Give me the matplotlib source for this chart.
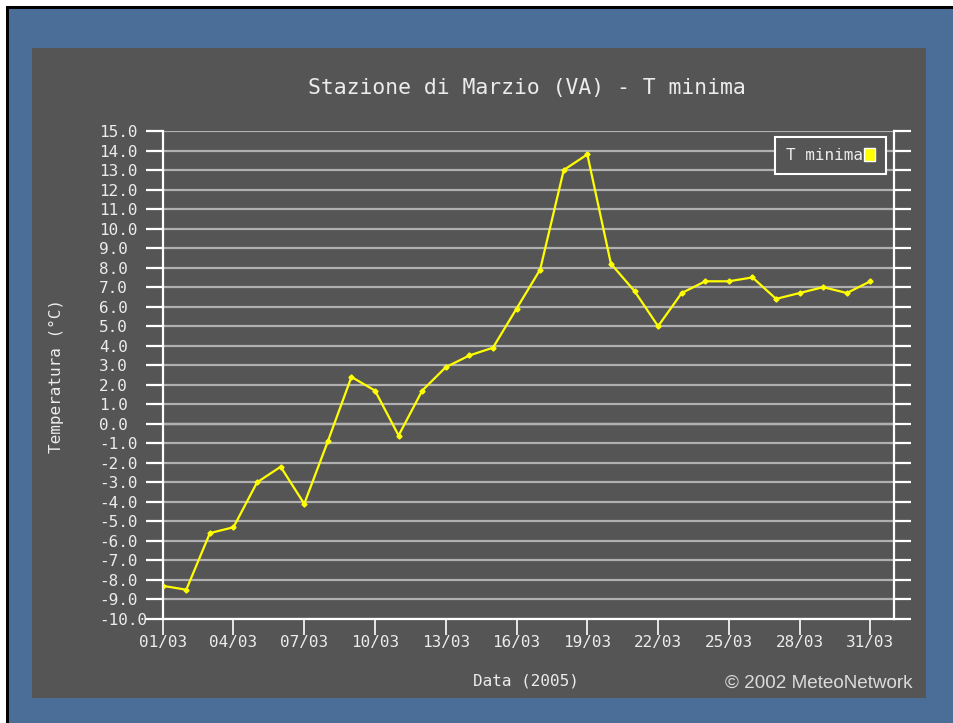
import matplotlib
matplotlib.use("Agg")
import matplotlib.pyplot as plt
from matplotlib.patches import Rectangle, Patch

# ---- data ----
days = list(range(1, 32))
t_min = [-8.3, -8.5, -5.6, -5.3, -3.0, -2.2, -4.1, -0.9, 2.4, 1.7,
         -0.6, 1.7, 2.9, 3.5, 3.9, 5.9, 7.9, 13.0, 13.8, 8.2,
         6.8, 5.0, 6.7, 7.3, 7.3, 7.5, 6.4, 6.7, 7.0, 6.7, 7.3]
xtick_days = [1, 4, 7, 10, 13, 16, 19, 22, 25, 28, 31]
xtick_labels = ["01/03", "04/03", "07/03", "10/03", "13/03", "16/03",
                "19/03", "22/03", "25/03", "28/03", "31/03"]
ytick_vals = list(range(-10, 16))
ytick_labels = [f"{v:.1f}" for v in ytick_vals]

W, H = 954, 723
BLUE = "#4a6e98"
PANEL = "#555555"
GRID = "#b0b0b0"
TXT = "#ececec"
MONO = "DejaVu Sans Mono"
FS = 11.5

fig = plt.figure(figsize=(W / 100, H / 100), dpi=100, facecolor=BLUE)

def fx(px):
    return px / W

def fy(py):
    return 1 - py / H

# outer white margin + black frame lines (top / left)
fig.patches.append(Rectangle((0, fy(6)), 1, 6 / H, transform=fig.transFigure,
                             facecolor="white", edgecolor="none", zorder=-5))
fig.patches.append(Rectangle((0, 0), 6 / W, 1, transform=fig.transFigure,
                             facecolor="white", edgecolor="none", zorder=-5))
fig.patches.append(Rectangle((fx(6), fy(9)), 1, 3 / H, transform=fig.transFigure,
                             facecolor="black", edgecolor="none", zorder=-4))
fig.patches.append(Rectangle((fx(6), 0), 3 / W, fy(6), transform=fig.transFigure,
                             facecolor="black", edgecolor="none", zorder=-4))
# dark panel
fig.patches.append(Rectangle((fx(32), fy(698.3)), (925.7 - 32) / W, (698.3 - 48.3) / H,
                             transform=fig.transFigure, facecolor=PANEL,
                             edgecolor="none", zorder=-3))

ax = fig.add_axes([fx(162.7), fy(619), (894 - 162.7) / W, (619 - 131) / H])
ax.set_facecolor(PANEL)
ax.set_xlim(1, 32)
ax.set_ylim(-10, 15)

# gridlines
ax.set_yticks(ytick_vals)
ax.set_yticklabels(ytick_labels)
ax.grid(axis="y", color=GRID, linewidth=1.6, zorder=1)
ax.axhline(0, color="white", linewidth=1.6, zorder=1.5)

ax.plot(days, t_min, color="#ffff00", linewidth=1.6, marker="D",
        markersize=2.6, zorder=3)

# spines
for side in ["left", "bottom", "right"]:
    ax.spines[side].set_color("white")
    ax.spines[side].set_linewidth(1.6)
ax.spines["top"].set_visible(False)

ax.set_xticks(xtick_days)
ax.set_xticklabels(xtick_labels)
ax.tick_params(axis="x", direction="out", length=11.5, width=1.2, color="white",
               pad=0, labelsize=FS, labelcolor=TXT)
ax.tick_params(axis="y", which="both", direction="out", length=12.2, width=1.6,
               color="white", pad=33.7, labelsize=FS, labelcolor=TXT,
               right=True, left=True)
for lab in ax.get_xticklabels():
    lab.set_fontfamily(MONO)
for lab in ax.get_yticklabels():
    lab.set_fontfamily(MONO)
    lab.set_horizontalalignment("left")

# title and axis labels as figure text
fig.text(fx(527), fy(88), "Stazione di Marzio (VA) - T minima", ha="center",
         va="center", fontsize=15.4, color=TXT, family=MONO)
fig.text(fx(526), fy(681), "Data (2005)", ha="center", va="center",
         fontsize=FS, color=TXT, family=MONO)
fig.text(fx(56), fy(376), "Temperatura (°C)", ha="center", va="center",
         rotation=90, fontsize=FS, color=TXT, family=MONO)
fig.text(fx(819), fy(683), "© 2002 MeteoNetwork", ha="center", va="center",
         fontsize=13.6, color="#dcdcdc", family="Liberation Sans")

leg = ax.legend(handles=[Patch(facecolor="#ffff00", edgecolor="white",
                               linewidth=1.0, label="T minima")],
                loc="upper right", bbox_to_anchor=(fx(886), fy(136.7)),
                bbox_transform=fig.transFigure, markerfirst=False,
                fancybox=False, framealpha=1, facecolor=PANEL,
                edgecolor="white", borderpad=0.7, handlelength=0.65,
                handleheight=0.85, handletextpad=0.1, borderaxespad=0,
                prop={"family": MONO, "size": FS})
leg.get_frame().set_linewidth(1.5)
for t in leg.get_texts():
    t.set_color(TXT)

fig.savefig("out.png", dpi=100, facecolor=BLUE)
